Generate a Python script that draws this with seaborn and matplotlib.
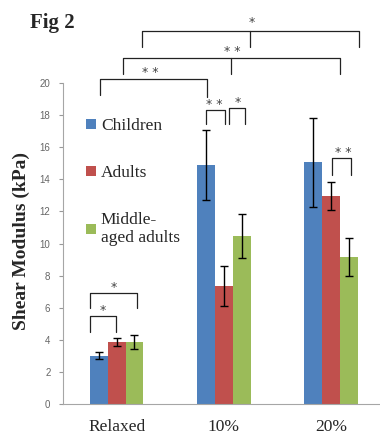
import pandas as pd
import matplotlib
matplotlib.use('Agg')
import matplotlib.pyplot as plt
import seaborn as sns

sns.set_style('white')
plt.rcParams['font.family'] = ['Liberation Serif', 'DejaVu Serif']

# 数据
conditions = ['Relaxed', '10%', '20%']
groups = ['Children', 'Adults', 'Middle-\naged adults']
children_mean = [3.0, 14.9, 15.05]
children_err = [0.21, 2.17, 2.76]
adults_mean = [3.85, 7.35, 12.97]
adults_err = [0.25, 1.22, 0.87]
middle_mean = [3.85, 10.45, 9.16]
middle_err = [0.42, 1.36, 1.21]
colors = ['#4F81BD', '#C0504D', '#9BBB59']

means = [children_mean, adults_mean, middle_mean]
errs = [children_err, adults_err, middle_err]

rows = []
for g, m in zip(groups, means):
    for c, v in zip(conditions, m):
        rows.append({'condition': c, 'group': g, 'value': v})
df = pd.DataFrame(rows)

fig = plt.figure(figsize=(3.8, 4.37), dpi=100)
ax = fig.add_axes([63 / 380, 33 / 437, 317 / 380, 321 / 437])

sns.barplot(data=df, x='condition', y='value', hue='group', palette=colors,
            width=0.5, errorbar=None, linewidth=0, saturation=1, ax=ax)

# 误差线
for cont, e in zip(ax.containers, errs):
    xs = [p.get_x() + p.get_width() / 2 for p in cont.patches]
    ys = [p.get_height() for p in cont.patches]
    ax.errorbar(xs, ys, yerr=e, fmt='none', ecolor='black', elinewidth=1,
                capsize=3.2, capthick=1, zorder=5)

ax.set_xlim(-0.5, 2.456)
ax.set_ylim(0, 20)
ax.set_yticks(range(0, 21, 2))
ax.set_xlabel('')
ax.set_ylabel('')
for lab in ax.get_yticklabels():
    lab.set_fontfamily('Liberation Sans')
ax.tick_params(axis='y', labelsize=7, labelcolor='#666666', color='#999999',
               length=3, width=0.8, left=True, direction='out', pad=6)
ax.tick_params(axis='x', labelsize=12.5, length=0, pad=11)
sns.despine(ax=ax)
for s in ['left', 'bottom']:
    ax.spines[s].set_color('#a6a6a6')
    ax.spines[s].set_linewidth(0.8)

# 图例
leg = ax.legend(loc='upper left', bbox_to_anchor=(86 / 380, 1 - 118 / 437),
                bbox_transform=fig.transFigure, frameon=False, fontsize=12.5,
                handlelength=0.55, handleheight=0.55, handletextpad=0.3,
                labelspacing=1.78, borderpad=0, borderaxespad=0)


# 显著性括号
def bracket(x1, x2, ytop, yb1, yb2, txt, tx, ty, mid=None):
    kw = dict(color='#222222', lw=0.9, clip_on=False, zorder=6)
    ax.plot([x1, x1, x2, x2], [yb1, ytop, ytop, yb2], **kw)
    if mid is not None:
        ax.plot([mid, mid], [ytop, yb1], **kw)
    ax.text(tx, ty, txt, ha='center', va='center', fontsize=9,
            color='#444444', family='DejaVu Sans', clip_on=False)


bracket(-0.252, -0.009, 5.48, 4.51, 4.51, '*', -0.133, 5.85)
bracket(-0.252, 0.19, 6.9, 5.98, 5.98, '*', -0.025, 7.25)
bracket(0.83, 1.007, 18.32, 17.45, 17.45, '* *', 0.914, 18.65)
bracket(1.044, 1.193, 18.44, 17.45, 17.45, '*', 1.128, 18.8)
bracket(2.005, 2.19, 15.33, 14.27, 14.27, '* *', 2.11, 15.7)
bracket(-0.159, 0.839, 20.25, 19.25, 19.1, '* *', 0.31, 20.65)
bracket(0.056, 2.08, 21.56, 20.56, 20.56, '* *', 1.08, 21.95, mid=1.063)
bracket(0.233, 2.256, 23.24, 22.24, 22.24, '*', 1.26, 23.8, mid=1.24)

fig.text(21 / 380, 1 - 241 / 437, 'Shear Modulus (kPa)', rotation=90,
         ha='center', va='center', fontsize=14, fontweight='bold')
fig.text(30 / 380, 1 - 23 / 437, 'Fig 2', ha='left', va='center',
         fontsize=15, fontweight='bold')

fig.savefig('out.png', dpi=100)
